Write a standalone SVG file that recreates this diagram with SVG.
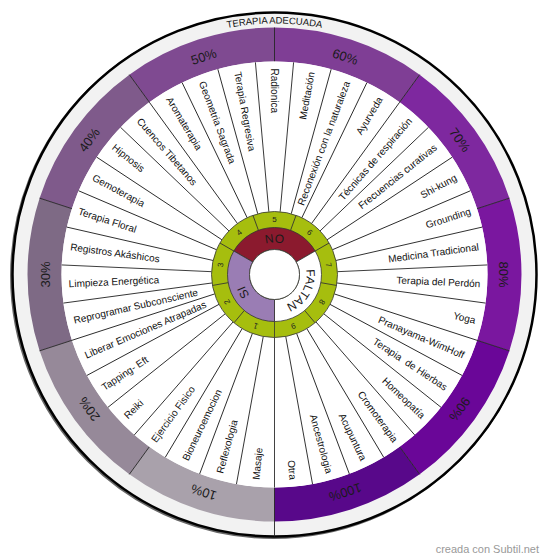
<svg xmlns="http://www.w3.org/2000/svg" width="550" height="559" viewBox="0 0 550 559">
<style>
text{font-family:"Liberation Sans",Arial,sans-serif}
.it{font-size:10px;fill:#111}
.e{text-anchor:end}
.pc{font-size:13px;fill:#1a1a1a;text-anchor:middle}
.num{font-size:8px;fill:#222;text-anchor:middle}
.ln{stroke:#111;stroke-width:0.8}
.pl{stroke:#222;stroke-width:0.9}
.gl{stroke:#333;stroke-width:0.8}
.lab{font-size:12px;fill:#1a1a1a;text-anchor:middle}
</style>
<defs>
<path id="arcTop" d="M -251 0 A 251 251 0 0 1 251 0"/>
<path id="inner" d="M 0 32 A 32 32 0 1 1 0 -32 A 32 32 0 1 1 0 32"/>
</defs>
<rect width="550" height="559" fill="#fff"/>
<g transform="translate(274.5 274.5)">
<g id="outer-ring">
<circle cx="-1.2" cy="1.2" r="262" fill="none" stroke="#000" stroke-width="2.5" opacity="0.6"/>
<circle r="262" fill="#f2f2f2" stroke="#000" stroke-width="2.5"/>
<text font-size="9.5" fill="#111" text-anchor="middle"><textPath href="#arcTop" startOffset="50%">TERAPIA ADECUADA</textPath></text>
</g>
<g id="percent-ring">
<path fill="#a9a1ab" d="M 0 247 A 247 247 0 0 1 -145.18 199.83 L -125.20 172.32 A 213 213 0 0 0 0 213 Z"/>
<path fill="#968999" d="M -145.18 199.83 A 247 247 0 0 1 -234.91 76.33 L -202.58 65.82 A 213 213 0 0 0 -125.20 172.32 Z"/>
<path fill="#7e6a85" d="M -234.91 76.33 A 247 247 0 0 1 -234.91 -76.33 L -202.58 -65.82 A 213 213 0 0 0 -202.58 65.82 Z"/>
<path fill="#7f5a8b" d="M -234.91 -76.33 A 247 247 0 0 1 -145.18 -199.83 L -125.20 -172.32 A 213 213 0 0 0 -202.58 -65.82 Z"/>
<path fill="#7f4a91" d="M -145.18 -199.83 A 247 247 0 0 1 0 -247 L 0 -213 A 213 213 0 0 0 -125.20 -172.32 Z"/>
<path fill="#7f3e95" d="M 0 -247 A 247 247 0 0 1 145.18 -199.83 L 125.20 -172.32 A 213 213 0 0 0 0 -213 Z"/>
<path fill="#7e289f" d="M 145.18 -199.83 A 247 247 0 0 1 234.91 -76.33 L 202.58 -65.82 A 213 213 0 0 0 125.20 -172.32 Z"/>
<path fill="#7a179f" d="M 234.91 -76.33 A 247 247 0 0 1 234.91 76.33 L 202.58 65.82 A 213 213 0 0 0 202.58 -65.82 Z"/>
<path fill="#6a0698" d="M 234.91 76.33 A 247 247 0 0 1 145.18 199.83 L 125.20 172.32 A 213 213 0 0 0 202.58 65.82 Z"/>
<path fill="#58088a" d="M 145.18 199.83 A 247 247 0 0 1 0 247 L 0 213 A 213 213 0 0 0 125.20 172.32 Z"/>
<g class="pl">
<line x1="0" y1="-213" x2="0" y2="-247"/>
<line x1="125.20" y1="-172.32" x2="145.18" y2="-199.83"/>
<line x1="202.58" y1="-65.82" x2="234.91" y2="-76.33"/>
<line x1="202.58" y1="65.82" x2="234.91" y2="76.33"/>
<line x1="125.20" y1="172.32" x2="145.18" y2="199.83"/>
<line x1="0" y1="213" x2="0" y2="262"/>
<line x1="-125.20" y1="172.32" x2="-145.18" y2="199.83"/>
<line x1="-202.58" y1="65.82" x2="-234.91" y2="76.33"/>
<line x1="-202.58" y1="-65.82" x2="-234.91" y2="-76.33"/>
<line x1="-125.20" y1="-172.32" x2="-145.18" y2="-199.83"/>
</g>
<text class="pc" y="-229" dy=".35em" transform="rotate(198)">10%</text>
<text class="pc" y="-229" dy=".35em" transform="rotate(234)">20%</text>
<text class="pc" y="-229" dy=".35em" transform="rotate(270)">30%</text>
<text class="pc" y="-229" dy=".35em" transform="rotate(306)">40%</text>
<text class="pc" y="-229" dy=".35em" transform="rotate(342)">50%</text>
<text class="pc" y="-229" dy=".35em" transform="rotate(18)">60%</text>
<text class="pc" y="-229" dy=".35em" transform="rotate(54)">70%</text>
<text class="pc" y="-229" dy=".35em" transform="rotate(90)">80%</text>
<text class="pc" y="-229" dy=".35em" transform="rotate(126)">90%</text>
<text class="pc" y="-229" dy=".35em" transform="rotate(162)">100%</text>
</g>
<g id="items">
<circle r="213" fill="#fff"/>
<g class="ln">
<line y1="-63" y2="-213" transform="rotate(5.143)"/>
<line y1="-63" y2="-213" transform="rotate(15.429)"/>
<line y1="-63" y2="-213" transform="rotate(25.714)"/>
<line y1="-63" y2="-213" transform="rotate(36)"/>
<line y1="-63" y2="-213" transform="rotate(46.286)"/>
<line y1="-63" y2="-213" transform="rotate(56.571)"/>
<line y1="-63" y2="-213" transform="rotate(66.857)"/>
<line y1="-63" y2="-213" transform="rotate(77.143)"/>
<line y1="-63" y2="-213" transform="rotate(87.429)"/>
<line y1="-63" y2="-213" transform="rotate(97.714)"/>
<line y1="-63" y2="-213" transform="rotate(108)"/>
<line y1="-63" y2="-213" transform="rotate(118.286)"/>
<line y1="-63" y2="-213" transform="rotate(128.571)"/>
<line y1="-63" y2="-213" transform="rotate(138.857)"/>
<line y1="-63" y2="-213" transform="rotate(149.143)"/>
<line y1="-63" y2="-213" transform="rotate(159.429)"/>
<line y1="-63" y2="-213" transform="rotate(169.714)"/>
<line y1="-63" y2="-213" transform="rotate(180)"/>
<line y1="-63" y2="-213" transform="rotate(190.286)"/>
<line y1="-63" y2="-213" transform="rotate(200.571)"/>
<line y1="-63" y2="-213" transform="rotate(210.857)"/>
<line y1="-63" y2="-213" transform="rotate(221.143)"/>
<line y1="-63" y2="-213" transform="rotate(231.429)"/>
<line y1="-63" y2="-213" transform="rotate(241.714)"/>
<line y1="-63" y2="-213" transform="rotate(252)"/>
<line y1="-63" y2="-213" transform="rotate(262.286)"/>
<line y1="-63" y2="-213" transform="rotate(272.571)"/>
<line y1="-63" y2="-213" transform="rotate(282.857)"/>
<line y1="-63" y2="-213" transform="rotate(293.143)"/>
<line y1="-63" y2="-213" transform="rotate(303.429)"/>
<line y1="-63" y2="-213" transform="rotate(313.714)"/>
<line y1="-63" y2="-213" transform="rotate(324)"/>
<line y1="-63" y2="-213" transform="rotate(334.286)"/>
<line y1="-63" y2="-213" transform="rotate(344.571)"/>
<line y1="-63" y2="-213" transform="rotate(354.857)"/>
</g>
<text class="it" x="-206" dy=".35em" transform="rotate(90)">Radionica</text>
<text class="it e" x="206" dy=".35em" transform="rotate(-79.714)">Meditación</text>
<text class="it e" x="206" dy=".35em" transform="rotate(-69.429)">Reconexión con la naturaleza</text>
<text class="it e" x="206" dy=".35em" transform="rotate(-59.143)">Ayurveda</text>
<text class="it e" x="206" dy=".35em" transform="rotate(-48.857)">Técnicas de respiración</text>
<text class="it e" x="206" dy=".35em" transform="rotate(-38.571)">Frecuencias curativas</text>
<text class="it e" x="206" dy=".35em" transform="rotate(-28.286)">Shi-kung</text>
<text class="it e" x="206" dy=".35em" transform="rotate(-18)">Grounding</text>
<text class="it e" x="206" dy=".35em" transform="rotate(-7.714)">Medicina Tradicional</text>
<text class="it e" x="206" dy=".35em" transform="rotate(2.571)">Terapia del Perdón</text>
<text class="it e" x="206" dy=".35em" transform="rotate(12.857)">Yoga</text>
<text class="it e" x="206" dy=".35em" transform="rotate(23.143)">Pranayama-WimHoff</text>
<text class="it e" x="206" dy=".35em" transform="rotate(33.429)" style="white-space:pre">Terapia  de Hierbas</text>
<text class="it e" x="206" dy=".35em" transform="rotate(43.714)">Homeopatía</text>
<text class="it e" x="206" dy=".35em" transform="rotate(54)">Cromoterapia</text>
<text class="it e" x="206" dy=".35em" transform="rotate(64.286)">Acupuntura</text>
<text class="it e" x="206" dy=".35em" transform="rotate(74.571)">Ancestrologia</text>
<text class="it e" x="206" dy=".35em" transform="rotate(84.857)">Otra</text>
<text class="it" x="-206" dy=".35em" transform="rotate(-84.857)">Masaje</text>
<text class="it" x="-206" dy=".35em" transform="rotate(-74.571)">Reflexologia</text>
<text class="it" x="-206" dy=".35em" transform="rotate(-64.286)">Bioneuroemocion</text>
<text class="it" x="-206" dy=".35em" transform="rotate(-54)">Ejercicio Fisico</text>
<text class="it" x="-206" dy=".35em" transform="rotate(-43.714)">Reiki</text>
<text class="it" x="-206" dy=".35em" transform="rotate(-33.429)">Tapping- Eft</text>
<text class="it" x="-206" dy=".35em" transform="rotate(-23.143)">Liberar Emociones Atrapadas</text>
<text class="it" x="-206" dy=".35em" transform="rotate(-12.857)">Reprogramar Subconsciente</text>
<text class="it" x="-206" dy=".35em" transform="rotate(-2.571)">Limpieza Energética</text>
<text class="it" x="-206" dy=".35em" transform="rotate(7.714)">Registros Akáshicos</text>
<text class="it" x="-206" dy=".35em" transform="rotate(18)">Terapia Floral</text>
<text class="it" x="-206" dy=".35em" transform="rotate(28.286)">Gemoterapia</text>
<text class="it" x="-206" dy=".35em" transform="rotate(38.571)">Hipnosis</text>
<text class="it" x="-206" dy=".35em" transform="rotate(48.857)">Cuencos Tibetanos</text>
<text class="it" x="-206" dy=".35em" transform="rotate(59.143)">Aromaterapia</text>
<text class="it" x="-206" dy=".35em" transform="rotate(69.429)">Geometria Sagrada</text>
<text class="it" x="-206" dy=".35em" transform="rotate(79.714)">Terapia Regresiva</text>
</g>
<g id="number-ring">
<circle r="63" fill="#a6be0e" stroke="#333" stroke-width="0.8"/>
<g class="gl">
<line y1="-47" y2="-63" transform="rotate(20)"/>
<line y1="-47" y2="-63" transform="rotate(60)"/>
<line y1="-47" y2="-63" transform="rotate(100)"/>
<line y1="-47" y2="-63" transform="rotate(140)"/>
<line y1="-47" y2="-63" transform="rotate(180)"/>
<line y1="-47" y2="-63" transform="rotate(220)"/>
<line y1="-47" y2="-63" transform="rotate(260)"/>
<line y1="-47" y2="-63" transform="rotate(300)"/>
<line y1="-47" y2="-63" transform="rotate(340)"/>
</g>
<text class="num" y="-55" dy=".35em" transform="rotate(0)">5</text>
<text class="num" y="-55" dy=".35em" transform="rotate(40)">6</text>
<text class="num" y="-55" dy=".35em" transform="rotate(80)">7</text>
<text class="num" y="-55" dy=".35em" transform="rotate(120)">8</text>
<text class="num" y="-55" dy=".35em" transform="rotate(160)">9</text>
<text class="num" y="-55" dy=".35em" transform="rotate(200)">1</text>
<text class="num" y="-55" dy=".35em" transform="rotate(240)">2</text>
<text class="num" y="-55" dy=".35em" transform="rotate(280)">3</text>
<text class="num" y="-55" dy=".35em" transform="rotate(320)">4</text>
</g>
<g id="answer-ring" stroke="#333" stroke-width="0.8">
<path id="no" fill="#8b1a2e" d="M -40.70 -23.5 A 47 47 0 0 1 40.70 -23.5 L 21.65 -12.5 A 25 25 0 0 0 -21.65 -12.5 Z"/>
<path id="faltan" fill="#ffffff" d="M 40.70 -23.5 A 47 47 0 0 1 0 47 L 0 25 A 25 25 0 0 0 21.65 -12.5 Z"/>
<path id="si" fill="#9a7db4" d="M 0 47 A 47 47 0 0 1 -40.70 -23.5 L -21.65 -12.5 A 25 25 0 0 0 0 25 Z"/>
<circle r="25" fill="#fff"/>
</g>
<g id="answer-labels">
<text class="lab"><textPath href="#inner" startOffset="50%">NO</textPath></text>
<text class="lab"><textPath href="#inner" startOffset="83.33%">FALTAN</textPath></text>
<text class="lab"><textPath href="#inner" startOffset="16.67%">SI</textPath></text>
</g>
</g>
<text x="539" y="553" font-size="11" fill="#999" text-anchor="end">creada con Subtil.net</text>
</svg>
